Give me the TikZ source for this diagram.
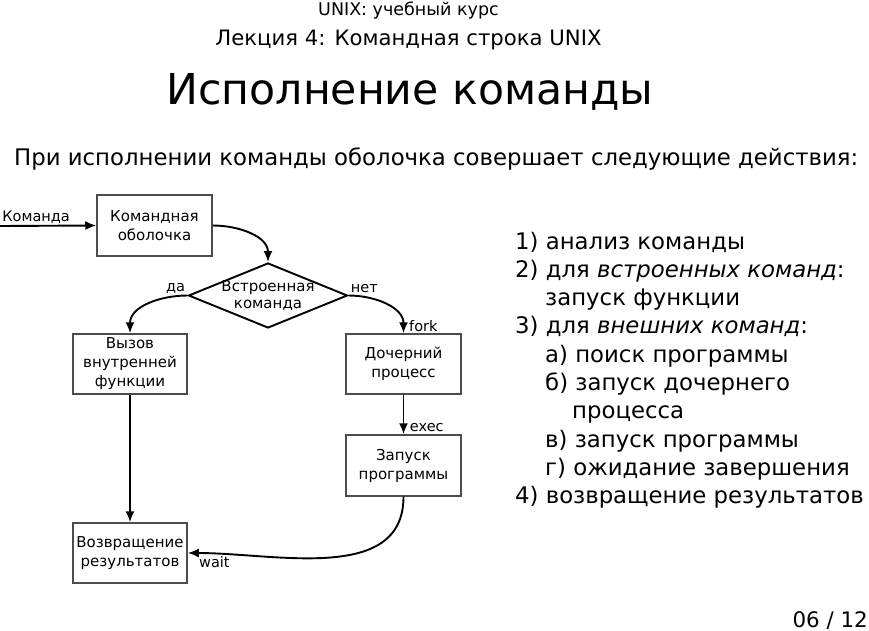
\documentclass[tikz,border=0pt]{standalone}
\usepackage{fontspec}
\setmainfont{DejaVu Sans}
\usetikzlibrary{arrows.meta,shapes.geometric}
\definecolor{boxgray}{rgb}{0.3,0.3,0.3}

\begin{document}
\begin{tikzpicture}[x=1pt,y=1pt,
  box/.style={draw=boxgray,line width=1.5pt,minimum width=115pt,minimum height=61pt,inner sep=1pt,align=center,font=\fontsize{15}{19}\selectfont},
  decision/.style={draw=black,line width=1.9pt,diamond,minimum width=159pt,minimum height=65pt,inner sep=0pt},
  flow/.style={line width=1.9pt,-{Latex[length=11pt,width=9pt]}},
  lbl/.style={font=\fontsize{14.5}{16}\selectfont,inner sep=1.5pt},
  item/.style={anchor=base west,inner sep=0pt,font=\fontsize{22.8}{26}\selectfont}]
\useasboundingbox (0,0) rectangle (869,-631);

\node (course) [anchor=base,inner sep=0pt] at (408.5,-16) {\fontsize{17.5}{20}\selectfont UNIX: учебный курс};
\node (lecture) [anchor=base,inner sep=0pt] at (408.5,-46) {\fontsize{21.2}{24}\selectfont Лекция 4: Командная строка UNIX};
\node (title) [anchor=base,inner sep=0pt] at (410,-105) {\fontsize{42.6}{48}\selectfont Исполнение команды};
\node (intro) [anchor=base west,inner sep=0pt] at (14,-165) {\fontsize{22.8}{26}\selectfont При исполнении команды оболочка совершает следующие действия:};

\coordinate (input) at (0,-226);
\node (shell) [box] at (154.5,-225.5) {Командная\\оболочка};
\node (builtin) [decision] at (268,-295.5) {};
\node (builtinlbl) [align=center,font=\fontsize{15}{16.5}\selectfont] at (builtin.center) {Встроенная\\команда};
\node (call) [box,minimum width=114pt,minimum height=60pt] at (130,-364) {Вызов\\внутренней\\функции};
\node (child) [box,minimum height=60pt] at (403.5,-364) {Дочерний\\процесс};
\node (run) [box] at (403.5,-465.5) {Запуск\\программы};
\node (ret) [box,minimum width=114pt,minimum height=60pt] at (130,-553) {Возвращение\\результатов};

\draw [flow] (input) node[lbl,anchor=south west] {Команда} -- (shell.west);
\draw [flow] (shell.east) to[out=0,in=90] (builtin.north);
\draw [flow] (builtin.west) node[lbl,anchor=south east] {да} to[out=180,in=90] (call.north);
\draw [flow] (builtin.east) node[lbl,anchor=south west] {нет} to[out=0,in=90] (child.north);
\draw [flow] (child.south) -- (run.north) node[lbl,anchor=south west,xshift=4pt] {exec};
\draw [flow] (call.south) -- (ret.north);
\draw [flow] (run.south) to[out=-90,in=0] (ret.east) node[lbl,anchor=north west,xshift=9pt,yshift=-1pt] {wait};
\node (forklbl) [lbl,anchor=south west,xshift=4pt] at (child.north) {fork};

\node (li1) [item] at (515,-249) {1) анализ команды};
\node (li2) [item] at (515,-277.3) {2) для \textit{встроенных команд}:};
\node (li3) [item] at (545,-305.6) {запуск функции};
\node (li4) [item] at (515,-333.9) {3) для \textit{внешних команд}:};
\node (li5) [item] at (545,-362.2) {а) поиск программы};
\node (li6) [item] at (545,-390.5) {б) запуск дочернего};
\node (li7) [item] at (572,-418.8) {процесса};
\node (li8) [item] at (545,-447.1) {в) запуск программы};
\node (li9) [item] at (545,-475.4) {г) ожидание завершения};
\node (li10) [item] at (515,-503.7) {4) возвращение результатов};

\node (page) [anchor=base east,inner sep=0pt] at (868,-627) {\fontsize{21.4}{24}\selectfont 06 / 12};
\end{tikzpicture}
\end{document}
